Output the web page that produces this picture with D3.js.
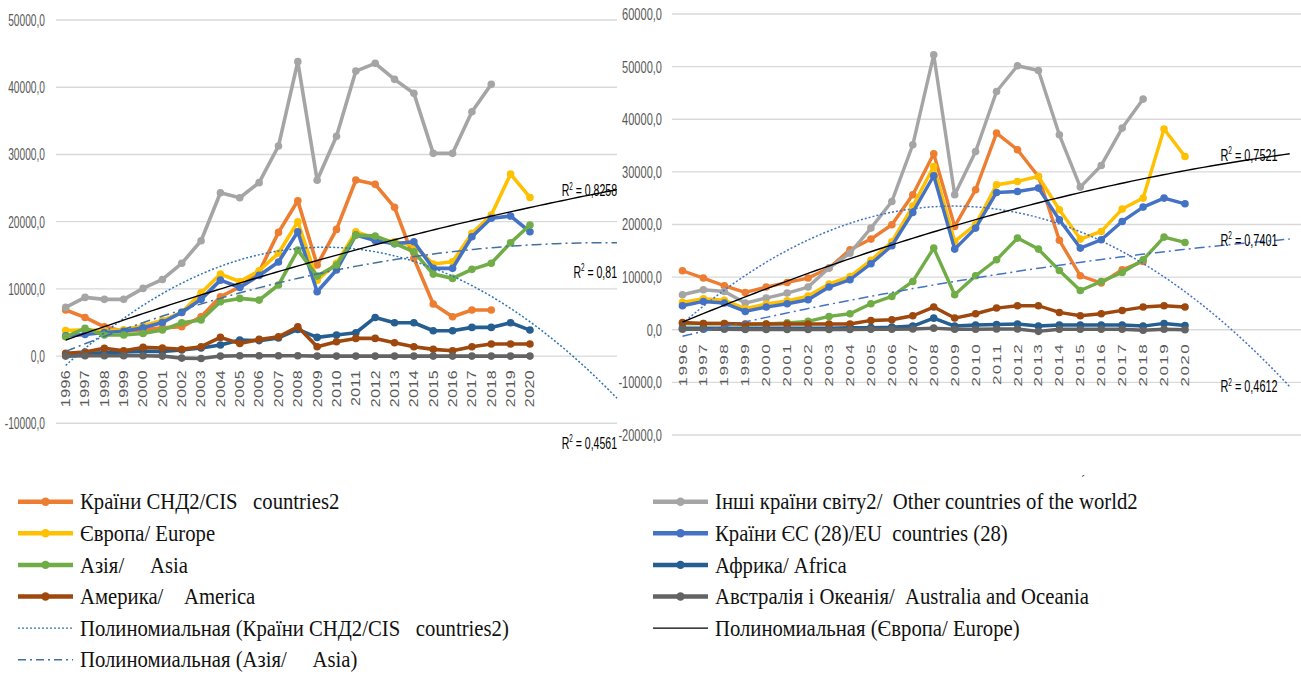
<!DOCTYPE html>
<html>
<head>
<meta charset="utf-8">
<style>
  * { margin: 0; padding: 0; box-sizing: border-box; }
  body { background: #fff; width: 1301px; height: 675px; overflow: hidden; }
  svg { display: block; }
  text { white-space: pre; }
</style>
</head>
<body>
<div id="chart"></div>
<script src="https://cdn.jsdelivr.net/npm/d3@7"></script>
<script>
// categories
const years = ['1996','1997','1998','1999','2000','2001','2002','2003','2004','2005','2006','2007','2008',
  '2009','2010','2011','2012','2013','2014','2015','2016','2017','2018','2019','2020'];

// left panel series
const cisLeft = [6850, 5750, 4360, 3700, 3900, 4200, 4360, 5850, 8830, 10300, 12550, 18400, 23100, 13540, 18850, 26190, 25550, 22130, 14540, 7740, 5850, 6850, 6850, null, null];
const otherLeft = [7240, 8730, 8440, 8440, 10070, 11400, 13800, 17160, 24300, 23560, 25800, 31250, 43800, 26150, 32700, 42400, 43550, 41170, 39100, 30160, 30160, 36360, 40430, null, null];
const europeLeft = [3800, 3900, 3800, 3900, 4500, 5300, 6500, 9400, 12200, 11100, 12700, 15300, 19990, 11300, 13800, 18500, 17500, 17000, 16500, 13700, 14030, 18250, 20980, 27080, 23600];
const euLeft = [3000, 3200, 3500, 3700, 4200, 5000, 6500, 8440, 11300, 10200, 12000, 14000, 18500, 9570, 12800, 18000, 17200, 16700, 17000, 13050, 13050, 17750, 20500, 20830, 18500];
const asiaLeft = [2870, 4120, 3130, 3130, 3370, 3870, 4960, 5360, 8080, 8580, 8330, 10570, 15770, 11900, 13540, 18000, 17860, 16770, 15520, 12200, 11560, 12900, 13800, 16860, 19500];
const africaLeft = [300, 400, 500, 600, 700, 700, 900, 1200, 1640, 2380, 2300, 2700, 3970, 2780, 3130, 3470, 5750, 4960, 4960, 3770, 3770, 4270, 4270, 4960, 3870];
const americaLeft = [400, 600, 1150, 800, 1290, 1200, 1000, 1390, 2780, 1880, 2480, 2870, 4360, 1390, 2130, 2630, 2630, 1980, 1390, 1000, 800, 1390, 1790, 1790, 1790];
const australiaLeft = [0, 50, 50, 50, 50, 0, -300, -350, 0, 50, 50, 50, 50, 0, 0, 0, 0, 0, 0, 0, 0, 0, 0, 0, 0];

// right panel series
const cisRight = [11210, 9820, 8360, 7090, 8110, 8990, 9820, 11720, 15200, 17230, 19950, 25650, 33440, 19630, 26600, 37370, 34200, 29130, 17000, 10260, 8870, 11400, 12980, null, null];
const otherRight = [6650, 7600, 7280, 5070, 6020, 6970, 8110, 11720, 14570, 19320, 24380, 35150, 52250, 25650, 33880, 45280, 50160, 49270, 37050, 27110, 31220, 38320, 43830, null, null];
const europeRight = [5200, 5900, 5600, 4000, 4900, 5500, 6400, 8700, 10100, 13200, 16700, 23500, 31030, 16780, 20000, 27550, 28180, 29130, 22800, 17230, 18680, 22930, 25020, 38130, 32930];
const euRight = [4560, 5380, 5070, 3480, 4310, 4940, 5700, 8110, 9500, 12540, 15960, 22290, 29260, 15330, 19320, 26090, 26280, 26920, 20900, 15520, 17100, 20580, 23310, 25020, 23940];
const asiaRight = [1140, 1200, 1200, 1000, 1100, 1300, 1600, 2530, 3040, 4940, 6330, 9180, 15520, 6650, 10260, 13300, 17420, 15330, 11270, 7470, 9180, 10890, 13300, 17610, 16590];
const africaRight = [300, 300, 300, 300, 300, 300, 300, 300, 400, 400, 500, 700, 2200, 700, 900, 1000, 1100, 700, 900, 900, 900, 900, 700, 1200, 800];
const americaRight = [1390, 1200, 1200, 1100, 1100, 1100, 1100, 1100, 1100, 1770, 1900, 2660, 4310, 2220, 3040, 4120, 4560, 4560, 3290, 2660, 3040, 3670, 4310, 4560, 4310];
const australiaRight = [100, 100, 100, 50, 50, 50, 50, 50, 50, 100, 100, 150, 300, 100, 100, 150, 150, -300, 100, 100, 100, 100, -100, 100, 0];

// series names / colours (legend order)
const seriesNames = ['Країни СНД2/CIS   countries2', 'Інші країни світу2/  Other countries of the world2',
  'Європа/ Europe', 'Країни ЄС (28)/EU  countries (28)', 'Азія/     Asia', 'Африка/ Africa',
  'Америка/    America', 'Австралія і Океанія/  Australia and Oceania'];
const seriesColors = ['#ED7D31', '#A5A5A5', '#FFC000', '#4472C4', '#70AD47', '#255E91', '#9E480E', '#636363'];
const trendNames = ['Полиномиальная (Країни СНД2/CIS   countries2)', 'Полиномиальная (Європа/ Europe)',
  'Полиномиальная (Азія/     Asia)'];

// y ticks
const yTicksLeft = [-10000, 0, 10000, 20000, 30000, 40000, 50000];
const yTicksRight = [-20000, -10000, 0, 10000, 20000, 30000, 40000, 50000, 60000];

// R² labels: [europe, asia, cis]
const r2Left = ['0,8258', '0,81', '0,4561'];
const r2Right = ['0,7521', '0,7401', '0,4612'];

const W = 1301, H = 675;
const svg = d3.select('#chart').append('svg').attr('width', W).attr('height', H);

const fmt = v => d3.format('.1f')(v).replace('.', ',').replace('−', '-');

// least squares quadratic, x = 1..n like Excel
function polyFit(vals) {
  const pts = vals.map((v, i) => [i + 1, v]).filter(p => p[1] != null);
  let s = [0, 0, 0, 0, 0], t = [0, 0, 0];
  pts.forEach(([x, y]) => {
    for (let k = 0; k < 5; k++) s[k] += Math.pow(x, k);
    for (let k = 0; k < 3; k++) t[k] += y * Math.pow(x, k);
  });
  const A = [[s[0], s[1], s[2], t[0]], [s[1], s[2], s[3], t[1]], [s[2], s[3], s[4], t[2]]];
  for (let c = 0; c < 3; c++) {
    for (let r = c + 1; r < 3; r++) {
      const f = A[r][c] / A[c][c];
      for (let k = c; k < 4; k++) A[r][k] -= f * A[c][k];
    }
  }
  const b = [0, 0, 0];
  for (let r = 2; r >= 0; r--) {
    let acc = A[r][3];
    for (let k = r + 1; k < 3; k++) acc -= A[r][k] * b[k];
    b[r] = acc / A[r][r];
  }
  return x => b[0] + b[1] * x + b[2] * x * x;
}

function drawPanel(p) {
  const g = svg.append('g');
  const x = d3.scaleLinear().domain([-0.5, p.xMax]).range([p.left, p.right]);
  const y = d3.scaleLinear().domain([p.yTicks[0], p.yTicks[p.yTicks.length - 1]]).range([p.bottom, p.top]);

  g.append('g').selectAll('line').data(p.yTicks).join('line')
    .attr('x1', p.left).attr('x2', p.right)
    .attr('y1', d => y(d)).attr('y2', d => y(d))
    .attr('stroke', '#d9d9d9').attr('stroke-width', 1.4);

  g.append('g').selectAll('text').data(p.yTicks).join('text')
    .attr('transform', d => `translate(${p.left - p.yGap},${y(d)}) scale(${p.sx},1)`)
    .attr('text-anchor', 'end').attr('dy', '0.35em')
    .attr('font-family', 'Liberation Sans, Arial, sans-serif').attr('font-size', p.fs)
    .attr('fill', '#595959').text(fmt);

  g.append('g').selectAll('text').data(years).join('text')
    .attr('transform', (d, i) => `translate(${x(i)},${p.xLabY}) scale(${p.xsx},1) rotate(-90)`)
    .attr('text-anchor', 'end').attr('dy', '0.35em')
    .attr('font-family', 'Liberation Sans, Arial, sans-serif').attr('font-size', p.xfs)
    .attr('letter-spacing', p.ls)
    .attr('fill', '#595959').text(d => d);

  const line = d3.line().defined(d => d != null).x((d, i) => x(i)).y(d => y(d));
  p.series.forEach((vals, si) => {
    const sg = g.append('g');
    sg.append('path').datum(vals).attr('d', line)
      .attr('fill', 'none').attr('stroke', seriesColors[si]).attr('stroke-width', p.lw)
      .attr('stroke-linejoin', 'round').attr('stroke-linecap', 'round');
    sg.selectAll('circle').data(vals.map((v, i) => [i, v]).filter(d => d[1] != null)).join('circle')
      .attr('cx', d => x(d[0])).attr('cy', d => y(d[1])).attr('r', p.mr)
      .attr('fill', seriesColors[si]);
  });

  // trendlines: CIS (dotted), Europe (solid black), Asia (dash-dot)
  const trends = [
    { vals: p.series[0], stroke: p.cisColor, dash: '2,2', w: 1.5 },
    { vals: p.series[2], stroke: '#000', dash: null, w: 1.4 },
    { vals: p.series[4], stroke: p.asiaColor, dash: '10,4,2,4', w: 1.5 }
  ];
  const tl = d3.line().x(d => x(d[0])).y(d => y(d[1]));
  trends.forEach(t => {
    const f = polyFit(t.vals);
    const pts = d3.range(0, 101).map(k => {
      const i = k / 100 * (24 + p.forward);
      return [i, f(i + 1)];
    });
    g.append('path').datum(pts).attr('d', tl).attr('fill', 'none')
      .attr('stroke', t.stroke).attr('stroke-width', t.w)
      .attr('stroke-dasharray', t.dash);
  });

  // R² labels
  p.r2.forEach((txt, k) => {
    const t = g.append('text')
      .attr('transform', `translate(${x(p.r2X)},${y(p.r2Y[k])}) scale(${p.rsx},1)`)
      .attr('text-anchor', 'end').attr('dy', '0.35em')
      .attr('font-family', 'Liberation Sans, Arial, sans-serif').attr('font-size', p.rfs)
      .attr('fill', '#000');
    t.append('tspan').text('R');
    t.append('tspan').attr('font-size', p.rfs * 0.6).attr('dy', -p.rfs * 0.38).text('2');
    t.append('tspan').attr('dy', p.rfs * 0.38).text(' = ' + txt);
  });
}

drawPanel({
  left: 56, right: 617, top: 20, bottom: 423.3, xMax: 28.5, forward: 4.5,
  yTicks: yTicksLeft, yGap: 11, fs: 17, sx: 0.6, xfs: 16, ls: 0.4, xsx: 0.78, xLabY: 370,
  rfs: 17, rsx: 0.62,
  lw: 3.6, mr: 3.8, cisColor: '#2E75B6', asiaColor: '#41719C',
  series: [cisLeft, otherLeft, europeLeft, euLeft, asiaLeft, africaLeft, americaLeft, australiaLeft],
  r2: r2Left, r2X: 28.5, r2Y: [24700, 12540, -12930]
});

drawPanel({
  left: 672, right: 1301, top: 14, bottom: 435, xMax: 29.54, forward: 5,
  yTicks: yTicksRight, yGap: 10, fs: 17, sx: 0.65, xfs: 17, ls: 1.4, xsx: 0.68, xLabY: 343,
  rfs: 17, rsx: 0.64,
  lw: 3.4, mr: 3.8, cisColor: '#4472C4', asiaColor: '#4472C4',
  series: [cisRight, otherRight, europeRight, euRight, asiaRight, africaRight, americaRight, australiaRight],
  r2: r2Right, r2X: 28.42, r2Y: [33250, 17100, -10770]
});

// legend
const legendItems = [
  { name: seriesNames[0], color: seriesColors[0], col: 0, row: 0 },
  { name: seriesNames[2], color: seriesColors[2], col: 0, row: 1 },
  { name: seriesNames[4], color: seriesColors[4], col: 0, row: 2 },
  { name: seriesNames[6], color: seriesColors[6], col: 0, row: 3 },
  { name: trendNames[0], color: '#2E75B6', col: 0, row: 4, dash: '2,2' },
  { name: trendNames[2], color: '#41719C', col: 0, row: 5, dash: '8,4,2,4' },
  { name: seriesNames[1], color: seriesColors[1], col: 1, row: 0 },
  { name: seriesNames[3], color: seriesColors[3], col: 1, row: 1 },
  { name: seriesNames[5], color: seriesColors[5], col: 1, row: 2 },
  { name: seriesNames[7], color: seriesColors[7], col: 1, row: 3 },
  { name: trendNames[1], color: '#000', col: 1, row: 4, solidTrend: true }
];
const legX = [18, 653], legY0 = 501.7, legDy = 31.6, legLen = 55;
const lg = svg.append('g');
legendItems.forEach(it => {
  const x0 = legX[it.col], yy = legY0 + it.row * legDy;
  const trend = it.dash || it.solidTrend;
  lg.append('line').attr('x1', x0).attr('x2', x0 + legLen).attr('y1', yy).attr('y2', yy)
    .attr('stroke', it.color).attr('stroke-width', trend ? 1.4 : 4.5)
    .attr('stroke-dasharray', it.dash || null);
  if (!trend) lg.append('circle').attr('cx', x0 + legLen / 2).attr('cy', yy).attr('r', 4.2).attr('fill', it.color);
  lg.append('text')
    .attr('transform', `translate(${x0 + legLen + 7},${yy}) scale(0.9,1)`)
    .attr('dy', '0.33em')
    .attr('font-family', 'Liberation Serif, Times New Roman, serif').attr('font-size', 23)
    .attr('fill', '#111').text(it.name);
});
lg.append('text').attr('x', 1081).attr('y', 484).attr('font-family', 'Liberation Serif, serif')
  .attr('font-size', 12).attr('fill', '#333').text('\u00B4');
</script>
</body>
</html>
